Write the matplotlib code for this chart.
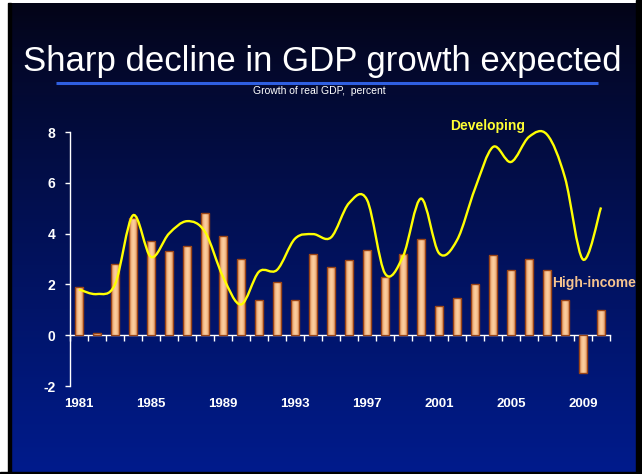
import numpy as np
import matplotlib
matplotlib.use("Agg")
import matplotlib.pyplot as plt
from matplotlib.path import Path
from matplotlib.patches import PathPatch, Rectangle

plt.rcParams['font.family'] = ['Liberation Sans', 'DejaVu Sans']

# Real GDP growth, percent
years = list(range(1981, 2011))
high_income = [1.9, 0.1, 2.8, 4.6, 3.7, 3.3, 3.5, 4.8, 3.9, 3.0,
               1.4, 2.1, 1.4, 3.2, 2.7, 2.95, 3.35, 2.3, 3.2, 3.8,
               1.15, 1.45, 2.0, 3.15, 2.55, 3.0, 2.55, 1.4, -1.5, 1.0]
developing = [1.8, 1.62, 2.0, 4.72, 3.08, 4.0, 4.49, 4.07, 2.3, 1.21,
              2.5, 2.57, 3.8, 3.98, 3.85, 5.2, 5.33, 2.43, 3.1, 5.38,
              3.23, 3.74, 5.77, 7.41, 6.82, 7.81, 7.9, 6.2, 2.98, 5.03]
year_labels = ['1981', '1985', '1989', '1993', '1997', '2001', '2005', '2009']
y_ticks = [-2, 0, 2, 4, 6, 8]


def smooth_path(xs, ys):
    # cubic bezier through every point, tangents like a spreadsheet "smoothed line"
    pts = np.column_stack([xs, ys]).astype(float)
    n = len(pts)
    verts = [pts[0]]
    codes = [Path.MOVETO]
    for i in range(n - 1):
        p0 = pts[i - 1] if i > 0 else pts[i]
        p1 = pts[i]
        p2 = pts[i + 1]
        p3 = pts[i + 2] if i + 2 < n else pts[i + 1]
        c1 = p1 + (p2 - p0) / 6.0
        c2 = p2 - (p3 - p1) / 6.0
        verts += [c1, c2, p2]
        codes += [Path.CURVE4] * 3
    return Path(verts, codes)


W, H = 642, 474
fig = plt.figure(figsize=(W / 100, H / 100), dpi=100)
fig.patch.set_facecolor('white')

# slide background: dark navy at the top fading to royal blue
bg = fig.add_axes([0, 0, 1, 1], zorder=-10)
bg.set_xlim(0, W)
bg.set_ylim(H, 0)
bg.axis('off')
t = np.linspace(0, 1, 256) ** 0.85
top = np.array([4, 4, 22]) / 255
bottom = np.array([0, 27, 140]) / 255
grad = top[None, :] * (1 - t[:, None]) + bottom[None, :] * t[:, None]
bg.imshow(grad[:, None, :], extent=[8, 636, 472, 3], aspect='auto')
bg.add_patch(Rectangle((636, 0), 6, H, color='black'))
bg.add_patch(Rectangle((0, 472), W, 2, color='black'))
bg.add_patch(Rectangle((8, 3), 2.5, 469, color='black'))

# title block
fig.text(322 / W, 1 - 62 / H, 'Sharp decline in GDP growth expected',
         color='white', fontsize=25, ha='center', va='center')
bg.plot([56, 598], [82.5, 82.5], color='#2f5fe0', lw=2.2, solid_capstyle='butt')
fig.text(319 / W, 1 - 91 / H, 'Growth of real GDP,  percent',
         color='white', fontsize=7.5, ha='center', va='center')

ax = fig.add_axes([70 / W, 1 - 386 / H, 540 / W, 254 / H])
ax.set_facecolor('none')
n = len(years)
xpos = np.arange(n)
ax.set_xlim(-0.5, n - 0.5)
ax.set_ylim(-2, 8)

# bars with a horizontal peach shading, clipped to each bar
shade = np.abs(np.linspace(-1, 1, 64)) ** 1.6
light = np.array([252, 206, 158]) / 255
dark = np.array([214, 128, 72]) / 255
bar_img = light[None, :] * (1 - shade[:, None]) + dark[None, :] * shade[:, None]
bar_img = bar_img[None, :, :]
bars = ax.bar(xpos, high_income, width=0.45, color='none',
              edgecolor='#9a4416', linewidth=1.0, zorder=3)
for b in bars:
    x0, w = b.get_x(), b.get_width()
    y0, h = b.get_y(), b.get_height()
    im = ax.imshow(bar_img, extent=[x0, x0 + w, min(y0, y0 + h), max(y0, y0 + h)],
                   aspect='auto', zorder=2, interpolation='bilinear')
    im.set_clip_path(b)

ax.add_patch(PathPatch(smooth_path(xpos, developing), facecolor='none',
                       edgecolor='#ffff00', lw=1.7, zorder=4, clip_on=False))

# axes styling
for s in ['top', 'right']:
    ax.spines[s].set_visible(False)
ax.spines['left'].set_color('white')
ax.spines['left'].set_linewidth(1.0)
ax.spines['bottom'].set_position(('data', 0))
ax.spines['bottom'].set_color('white')
ax.spines['bottom'].set_linewidth(1.0)
ax.set_yticks(y_ticks)
ax.set_yticklabels([str(v) for v in y_ticks])
ax.tick_params(axis='y', colors='white', length=3.5, width=1, pad=7,
               labelsize=10)
for lab in ax.get_yticklabels():
    lab.set_fontweight('bold')
ax.set_xticks(np.arange(n + 1) - 0.5)
ax.set_xticklabels([])
ax.tick_params(axis='x', colors='white', length=4, width=1, direction='out')

for lab in year_labels:
    i = years.index(int(lab))
    ax.annotate(lab, (i, -2), xytext=(0, -13), textcoords='offset points',
                ha='center', va='center', color='white', fontsize=9.5,
                fontweight='bold', annotation_clip=False)

ax.text(20.6, 8.23, 'Developing', color='#ffff33', fontsize=10,
        fontweight='bold', ha='left', va='center', clip_on=False)
ax.text(26.3, 2.05, 'High-income', color='#f6c48e', fontsize=10,
        fontweight='bold', ha='left', va='center', clip_on=False)

fig.savefig('out.png', dpi=100, facecolor=fig.get_facecolor())
